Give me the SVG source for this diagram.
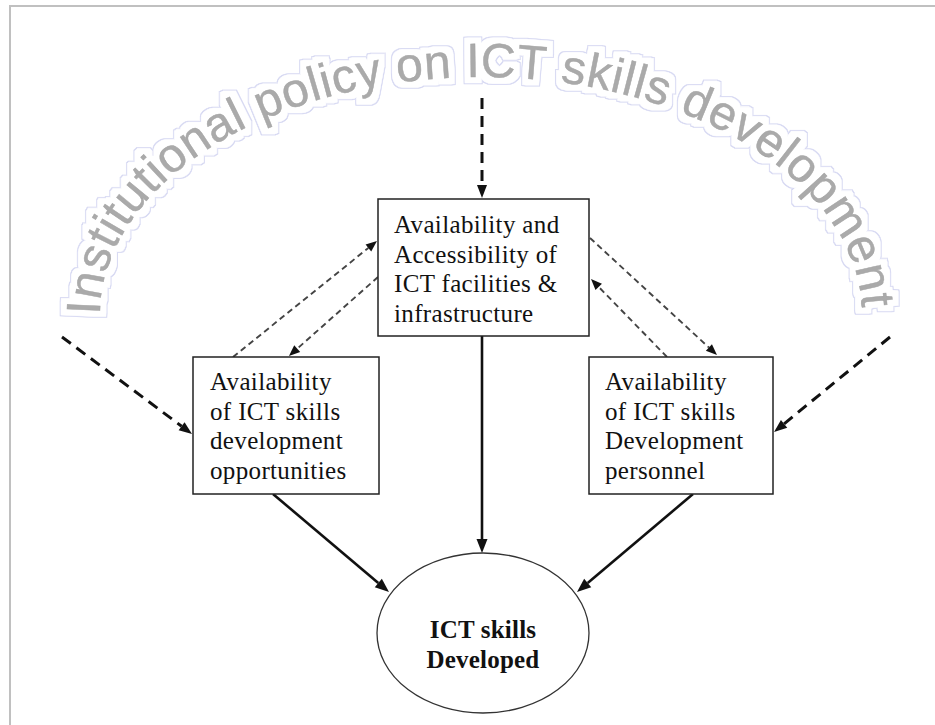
<svg xmlns="http://www.w3.org/2000/svg" xmlns:xlink="http://www.w3.org/1999/xlink" width="935" height="725" viewBox="0 0 935 725">
  <style>
    .box { fill: #ffffff; stroke: #222222; stroke-width: 1.5; }
    .label { font-family: "Liberation Serif", "Times New Roman", serif; font-size: 25px; letter-spacing: 0.35px; fill: #111111; }
    .bold { font-weight: bold; letter-spacing: 0.2px; }
    .solid { fill: none; stroke: #111111; stroke-width: 2.6; }
    .dash-thick { fill: none; stroke: #111111; stroke-width: 3; stroke-dasharray: 11 7; }
    .dash-thin { fill: none; stroke: #444444; stroke-width: 1.9; stroke-dasharray: 6 4; }
    .arch { font-family: "Liberation Sans", Arial, sans-serif; font-size: 48px; letter-spacing: 0.8px; fill: #aaaaaa; stroke: #a0a0a0; stroke-width: 0.5; }
  </style>
  <defs>
    <marker id="headSolid" markerUnits="userSpaceOnUse" orient="auto" refX="0" refY="0" markerWidth="16" markerHeight="14" overflow="visible">
      <path d="M0,-5.5 L14,0 L0,5.5 z" fill="#111111"/>
    </marker>
    <marker id="headThick" markerUnits="userSpaceOnUse" orient="auto" refX="0" refY="0" markerWidth="16" markerHeight="14" overflow="visible">
      <path d="M0,-5 L13,0 L0,5 z" fill="#111111"/>
    </marker>
    <marker id="headThin" markerUnits="userSpaceOnUse" orient="auto" refX="0" refY="0" markerWidth="14" markerHeight="12" overflow="visible">
      <path d="M0,-4.5 L11,0 L0,4.5 z" fill="#111111"/>
    </marker>
    <path id="archPath" d="M 100,315 A 381,238 0 0 1 862,315"/>
    <!-- pale outline round the banner letters -->
    <filter id="halo" x="-10%" y="-20%" width="120%" height="140%">
      <feMorphology in="SourceAlpha" operator="dilate" radius="7" result="outer"/>
      <feMorphology in="SourceAlpha" operator="dilate" radius="6" result="inner"/>
      <feFlood flood-color="#d6d8f2" result="lav"/>
      <feComposite in="lav" in2="outer" operator="in" result="lavShape"/>
      <feFlood flood-color="#ffffff" result="wh"/>
      <feComposite in="wh" in2="inner" operator="in" result="whShape"/>
      <feMerge>
        <feMergeNode in="lavShape"/>
        <feMergeNode in="whShape"/>
        <feMergeNode in="SourceGraphic"/>
      </feMerge>
    </filter>
  </defs>

  <rect x="0" y="0" width="935" height="725" fill="#ffffff"/>
  <!-- frame: top and left edges -->
  <path d="M10,725 V6 H935" fill="none" stroke="#c0c0c0" stroke-width="2"/>

  <!-- arched policy banner, one word per text run along the arch -->
  <g id="policy" class="arch" filter="url(#halo)">
    <text><textPath href="#archPath" xlink:href="#archPath" startOffset="0">Institutional</textPath></text>
    <text><textPath href="#archPath" xlink:href="#archPath" startOffset="267.3">policy</textPath></text>
    <text><textPath href="#archPath" xlink:href="#archPath" startOffset="408.9">on</textPath></text>
    <text><textPath href="#archPath" xlink:href="#archPath" startOffset="478">ICT</textPath></text>
    <text><textPath href="#archPath" xlink:href="#archPath" startOffset="571.8">skills</textPath></text>
    <text><textPath href="#archPath" xlink:href="#archPath" startOffset="694.7">development</textPath></text>
  </g>

  <g id="connectors">
    <!-- policy influences -->
    <path class="dash-thick" d="M482,98 L482,185" marker-end="url(#headThick)"/>
    <path class="dash-thick" d="M62,337 L181.6,426.2" marker-end="url(#headThick)"/>
    <path class="dash-thick" d="M890,337 L784.1,423.8" marker-end="url(#headThick)"/>
    <!-- mutual links between factors -->
    <path class="dash-thin" d="M233,357 L368.4,247.9" marker-end="url(#headThin)"/>
    <path class="dash-thin" d="M378,277 L297.2,348.7" marker-end="url(#headThin)"/>
    <path class="dash-thin" d="M590,238 L708.9,347.5" marker-end="url(#headThin)"/>
    <path class="dash-thin" d="M667,357 L598.7,286.9" marker-end="url(#headThin)"/>
    <!-- factors to outcome -->
    <path class="solid" d="M482,336 L482,539" marker-end="url(#headSolid)"/>
    <path class="solid" d="M273,494 L378.3,583" marker-end="url(#headSolid)"/>
    <path class="solid" d="M693,494 L587.7,583" marker-end="url(#headSolid)"/>
  </g>

  <g id="facilities">
    <rect class="box" x="378" y="199" width="211" height="137"/>
    <text class="label" x="394" y="233">Availability and</text>
    <text class="label" x="394" y="262.5">Accessibility of</text>
    <text class="label" x="394" y="292">ICT facilities &amp;</text>
    <text class="label" x="394" y="321.5">infrastructure</text>
  </g>

  <g id="opportunities">
    <rect class="box" x="193" y="357" width="186" height="137"/>
    <text class="label" x="210" y="390">Availability</text>
    <text class="label" x="210" y="419.5">of ICT skills</text>
    <text class="label" x="210" y="449">development</text>
    <text class="label" x="210" y="478.5">opportunities</text>
  </g>

  <g id="personnel">
    <rect class="box" x="589" y="357" width="184" height="137"/>
    <text class="label" x="605" y="390">Availability</text>
    <text class="label" x="605" y="419.5">of ICT skills</text>
    <text class="label" x="605" y="449">Development</text>
    <text class="label" x="605" y="478.5">personnel</text>
  </g>

  <g id="outcome">
    <ellipse cx="483" cy="633" rx="106" ry="80" fill="#ffffff" stroke="#333333" stroke-width="1.3"/>
    <text class="label bold" x="483" y="638" text-anchor="middle">ICT skills</text>
    <text class="label bold" x="483" y="667.5" text-anchor="middle">Developed</text>
  </g>
</svg>
